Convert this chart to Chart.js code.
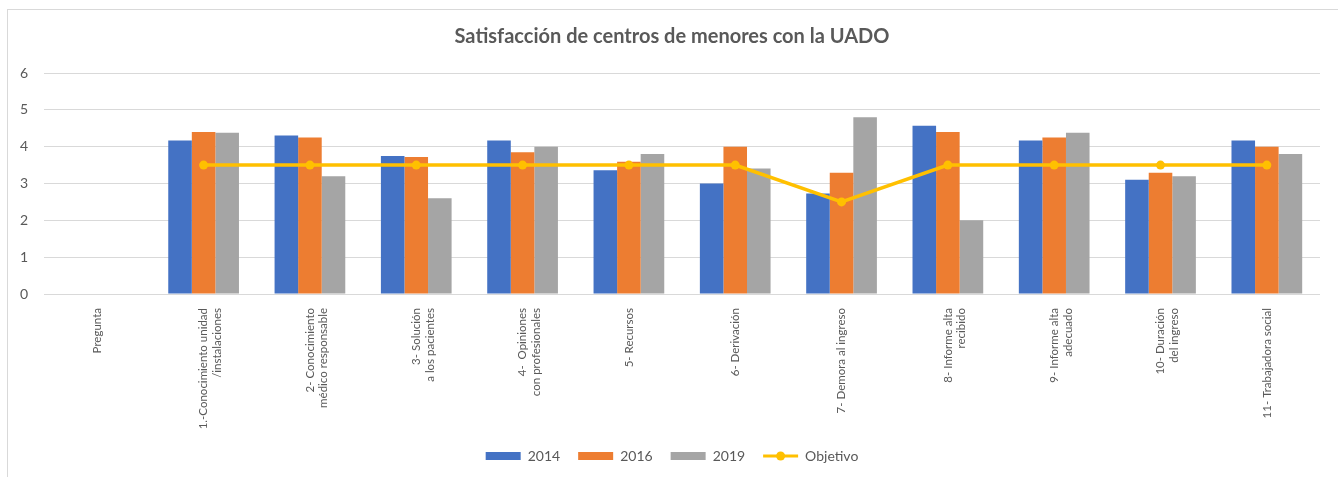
<!DOCTYPE html>
<html>
<head>
<meta charset="utf-8">
<script src="https://cdn.jsdelivr.net/npm/chart.js@4.4.0/dist/chart.umd.min.js"></script>
<style>
  html, body { margin: 0; padding: 0; background: #fff; overflow: hidden; }
  #wrap { position: relative; width: 1338px; height: 477px; overflow: hidden; }
  #frame { position: absolute; left: 7px; top: 9px; width: 1340px; height: 480px; border: 1px solid #d9d9d9; box-sizing: border-box; }
  canvas { position: absolute; left: 7px; top: 0; }
</style>
</head>
<body>
<div id="wrap">
  <div id="frame"></div>
  <canvas id="satisfactionChart" width="1333" height="477"></canvas>
</div>
<script>
Chart.defaults.font.family = 'Lato, "Open Sans", sans-serif';
Chart.defaults.color = '#595959';

const questions = [
    'Pregunta',
    ['1.-Conocimiento unidad', '/instalaciones'],
    ['2- Conocimiento', 'médico responsable'],
    ['3- Solución', 'a los pacientes'],
    ['4-  Opiniones', 'con profesionales'],
    '5- Recursos',
    '6- Derivación',
    '7- Demora al ingreso',
    ['8- Informe alta', 'recibido'],
    ['9- Informe alta', 'adecuado'],
    ['10- Duración', 'del ingreso'],
    '11- Trabajadora social'
];

const values2014 = [null, 4.17, 4.3, 3.75, 4.17, 3.36, 3.0, 2.73, 4.57, 4.17, 3.1, 4.17];
const values2016 = [null, 4.4, 4.25, 3.72, 3.85, 3.59, 4.0, 3.29, 4.4, 4.25, 3.29, 4.0];
const values2019 = [null, 4.38, 3.2, 2.6, 4.0, 3.8, 3.41, 4.8, 2.0, 4.38, 3.2, 3.8];
const objective = [null, 3.5, 3.5, 3.5, 3.5, 3.5, 3.5, 2.5, 3.5, 3.5, 3.5, 3.5];

const yTicks = [0, 1, 2, 3, 4, 5, 6];

const yellow = '#FFC000';

// dibuja la línea con punto en la leyenda para "Objetivo"
const lineLegendPlugin = {
    id: 'lineLegend',
    afterDraw(chart) {
        const legend = chart.legend;
        if (!legend || !legend.legendItems) return;
        const idx = legend.legendItems.findIndex(item => item.datasetIndex === 3);
        if (idx < 0) return;
        const box = legend.legendHitBoxes[idx];
        const boxWidth = legend.options.labels.boxWidth;
        const cy = box.top + box.height / 2;
        const ctx = chart.ctx;
        ctx.save();
        ctx.strokeStyle = yellow;
        ctx.lineWidth = 3;
        ctx.beginPath();
        ctx.moveTo(box.left, cy);
        ctx.lineTo(box.left + boxWidth, cy);
        ctx.stroke();
        ctx.fillStyle = yellow;
        ctx.beginPath();
        ctx.arc(box.left + boxWidth / 2, cy, 4.5, 0, Math.PI * 2);
        ctx.fill();
        ctx.restore();
    }
};

new Chart(document.getElementById('satisfactionChart'), {
    type: 'bar',
    data: {
        labels: questions,
        datasets: [
            {
                label: '2014',
                data: values2014,
                backgroundColor: '#4472C4',
                order: 1
            },
            {
                label: '2016',
                data: values2016,
                backgroundColor: '#ED7D31',
                order: 1
            },
            {
                label: '2019',
                data: values2019,
                backgroundColor: '#A5A5A5',
                order: 1
            },
            {
                type: 'line',
                label: 'Objetivo',
                data: objective,
                borderColor: yellow,
                backgroundColor: yellow,
                borderWidth: 3.5,
                pointRadius: 4.5,
                pointBorderWidth: 0,
                pointBackgroundColor: yellow,
                tension: 0,
                order: 0
            }
        ]
    },
    options: {
        responsive: false,
        animation: false,
        datasets: {
            bar: {
                barPercentage: 1,
                categoryPercentage: 0.665
            }
        },
        layout: {
            padding: { left: -3, right: 0, top: 17, bottom: 4 }
        },
        plugins: {
            title: {
                display: true,
                text: 'Satisfacción de centros de menores con la UADO',
                color: '#595959',
                font: { size: 20, weight: 'bold' },
                padding: { top: 8, bottom: 24 }
            },
            legend: {
                position: 'bottom',
                labels: {
                    boxWidth: 35,
                    boxHeight: 8,
                    padding: 18,
                    color: '#595959',
                    font: { size: 14 },
                    sort: (a, b) => a.datasetIndex - b.datasetIndex,
                    generateLabels(chart) {
                        const items = Chart.defaults.plugins.legend.labels.generateLabels(chart);
                        items.forEach(item => {
                            item.lineWidth = 0;
                            if (item.datasetIndex === 3) {
                                item.fillStyle = 'rgba(0,0,0,0)';
                                item.strokeStyle = 'rgba(0,0,0,0)';
                            }
                        });
                        return items;
                    }
                }
            },
            tooltip: {
                enabled: false
            }
        },
        scales: {
            x: {
                grid: { display: false },
                border: { display: false },
                ticks: {
                    autoSkip: false,
                    maxRotation: 90,
                    minRotation: 90,
                    padding: 6,
                    color: '#595959',
                    font: { size: 11.5 }
                },
                afterFit(scale) {
                    scale.height = 137;
                }
            },
            y: {
                min: 0,
                max: 6,
                afterBuildTicks(scale) {
                    scale.ticks = yTicks.map(v => ({ value: v }));
                },
                grid: {
                    color: '#d9d9d9',
                    lineWidth: 1,
                    drawTicks: false
                },
                border: { display: false },
                ticks: {
                    padding: 16,
                    color: '#595959',
                    font: { size: 14 }
                }
            },
            // eje vacío a la derecha: solo reserva el margen
            yRight: {
                position: 'right',
                min: 0,
                max: 6,
                grid: { display: false },
                border: { display: false },
                ticks: { display: false },
                afterFit(scale) {
                    scale.width = 20;
                }
            }
        }
    },
    plugins: [lineLegendPlugin]
});
</script>
</body>
</html>
